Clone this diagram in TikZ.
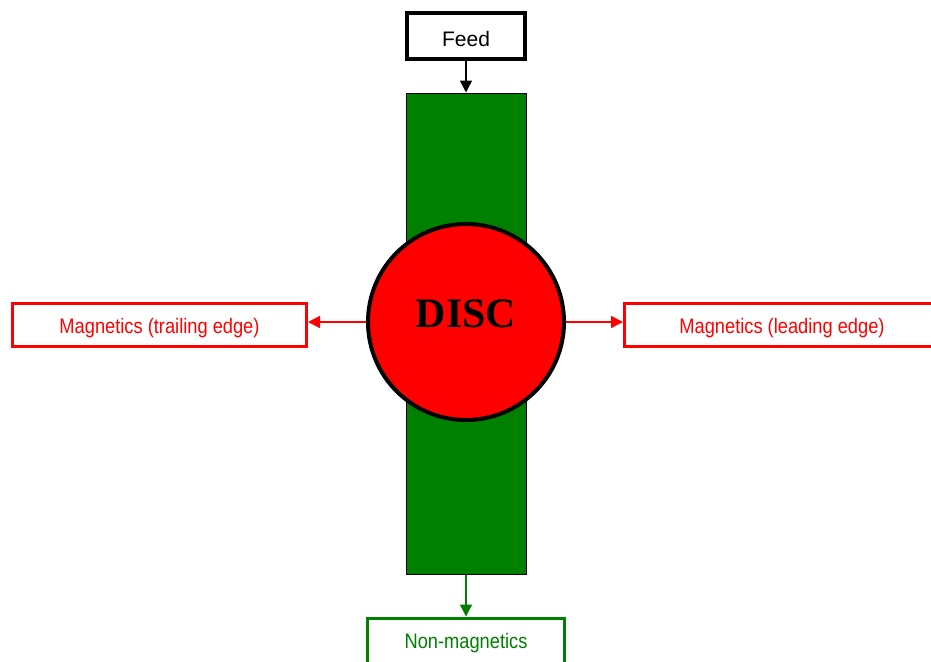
\documentclass[tikz,border=0pt]{standalone}
\usepackage{fontspec}
\setmainfont{Liberation Sans}
\newfontfamily\narrowfont[FakeStretch=0.87]{Liberation Sans}
\newfontfamily\discfont{Liberation Serif}
\usetikzlibrary{arrows.meta}
\definecolor{dgreen}{RGB}{0,128,0}
\tikzset{
  boxred/.style={draw=red, line width=3pt, fill=white, minimum width=294pt, minimum height=43pt, inner sep=0pt,
     text=red, font=\narrowfont\fontsize{21}{24}\selectfont, text height=16pt, text depth=0pt},
  conn/.style={line width=1.5pt, -{Triangle[length=12pt,width=12pt]}},
}
\begin{document}
\begin{tikzpicture}[x=1pt,y=-1pt]
\useasboundingbox (0,0) rectangle (931,661);
\clip (0,0) rectangle (931,661);
\node[draw=black, line width=4pt, minimum width=118pt, minimum height=46pt, inner sep=0pt,
      font=\fontsize{21}{24}\selectfont, text height=22pt, text depth=0pt] (feed) at (466,36) {Feed};
\node[draw=black, line width=1pt, fill=dgreen, minimum width=120pt, minimum height=481pt, inner sep=0pt] (bar) at (466,333.5) {};
\node[circle, draw=black, line width=4pt, fill=red, minimum size=196pt, inner sep=0pt,
      font=\discfont\bfseries\fontsize{42}{46}\selectfont, text height=30pt, text depth=20pt] (disc) at (466,322) {DISC};
\node[boxred] (left) at (159.5,325) {Magnetics (trailing edge)};
\node[boxred, minimum width=311pt] (right) at (780,325) {\hspace*{4pt}Magnetics (leading edge)};
\node[draw=dgreen, line width=3pt, fill=white, minimum width=197pt, minimum height=46pt, inner sep=0pt,
      text=dgreen, font=\narrowfont\fontsize{21}{24}\selectfont, text height=15pt, text depth=1pt] (nonmag) at (466,641) {Non-magnetics};
\draw[conn, black] (feed.south) -- (bar.north);
\draw[conn, red] (disc.west) -- (disc.west -| left.east);
\draw[conn, red] (disc.east) -- (disc.east -| right.west);
\draw[conn, dgreen] (bar.south) -- (nonmag.north);
\end{tikzpicture}
\end{document}
